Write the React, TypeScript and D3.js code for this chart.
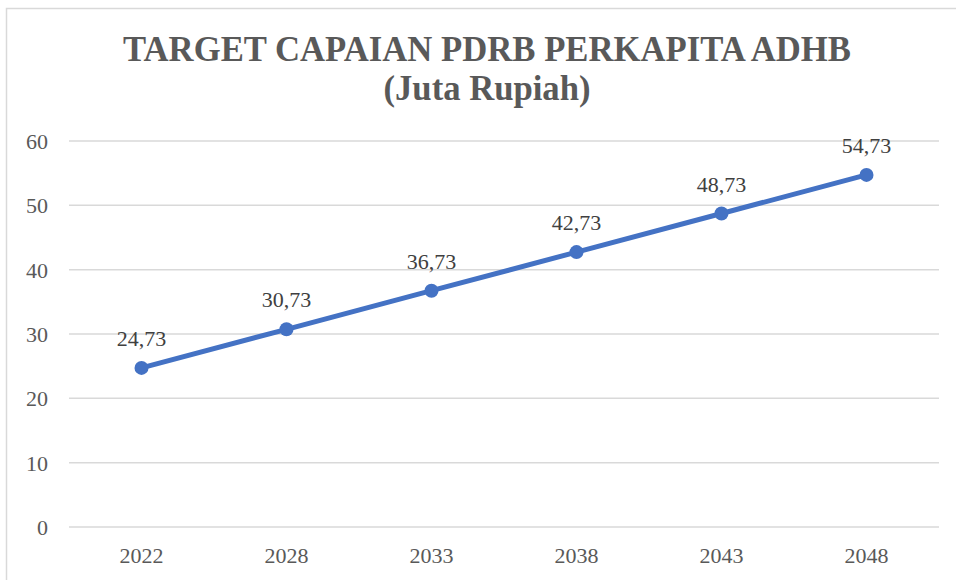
import React, { useEffect, useRef } from "react";
import * as d3 from "d3";

const years = ["2022", "2028", "2033", "2038", "2043", "2048"];
const values = [24.73, 30.73, 36.73, 42.73, 48.73, 54.73];
const yTicks = [0, 10, 20, 30, 40, 50, 60];
const titleLines = ["TARGET CAPAIAN PDRB PERKAPITA ADHB", "(Juta Rupiah)"];
const titleWidths = [728, 207];

const FONT = "Liberation Serif";

export default function App() {
  const ref = useRef<SVGSVGElement | null>(null);

  useEffect(() => {
    if (!ref.current) return;
    const svg = d3.select(ref.current);
    svg.selectAll("*").remove();

    const width = 956;
    const height = 580;

    svg.append("rect").attr("width", width).attr("height", height).attr("fill", "#fff");

    // chart frame, cropped on the right and bottom
    svg
      .append("rect")
      .attr("x", 6.5)
      .attr("y", 8.5)
      .attr("width", width + 20)
      .attr("height", height + 20)
      .attr("fill", "none")
      .attr("stroke", "#d9d9d9")
      .attr("stroke-width", 1.5);

    // title
    svg
      .selectAll("text.title")
      .data(titleLines)
      .enter()
      .append("text")
      .attr("class", "title")
      .attr("x", 487)
      .attr("y", (d, i) => (i === 0 ? 61 : 100))
      .attr("text-anchor", "middle")
      .attr("textLength", (d, i) => titleWidths[i])
      .attr("lengthAdjust", "spacingAndGlyphs")
      .style("font-family", FONT)
      .style("font-weight", "bold")
      .style("font-size", "35px")
      .attr("fill", "#595959")
      .text((d) => d);

    const x = d3.scalePoint<string>().domain(years).range([69, 939]).padding(0.5);
    const y = d3.scaleLinear().domain([0, 60]).range([527, 141]);

    // gridlines
    svg
      .selectAll("line.grid")
      .data(yTicks)
      .enter()
      .append("line")
      .attr("class", "grid")
      .attr("x1", 69)
      .attr("x2", 939)
      .attr("y1", (d) => y(d))
      .attr("y2", (d) => y(d))
      .attr("stroke", "#d9d9d9")
      .attr("stroke-width", 1.5);

    // y labels
    svg
      .selectAll("text.ylab")
      .data(yTicks)
      .enter()
      .append("text")
      .attr("class", "ylab")
      .attr("x", 48)
      .attr("y", (d) => y(d) + 8)
      .attr("text-anchor", "end")
      .style("font-family", FONT)
      .style("font-size", "22px")
      .attr("fill", "#595959")
      .text((d) => d);

    // x labels
    svg
      .selectAll("text.xlab")
      .data(years)
      .enter()
      .append("text")
      .attr("class", "xlab")
      .attr("x", (d) => x(d)!)
      .attr("y", 563)
      .attr("text-anchor", "middle")
      .style("font-family", FONT)
      .style("font-size", "22px")
      .attr("fill", "#595959")
      .text((d) => d);

    const pts = years.map((yr, i) => ({ yr, v: values[i] }));

    const line = d3
      .line<{ yr: string; v: number }>()
      .x((d) => x(d.yr)!)
      .y((d) => y(d.v));

    svg
      .append("path")
      .datum(pts)
      .attr("d", line)
      .attr("fill", "none")
      .attr("stroke", "#4472C4")
      .attr("stroke-width", 5)
      .attr("stroke-linejoin", "round")
      .attr("stroke-linecap", "round");

    svg
      .selectAll("circle.pt")
      .data(pts)
      .enter()
      .append("circle")
      .attr("class", "pt")
      .attr("cx", (d) => x(d.yr)!)
      .attr("cy", (d) => y(d.v))
      .attr("r", 7)
      .attr("fill", "#4472C4");

    // data labels
    svg
      .selectAll("text.val")
      .data(pts)
      .enter()
      .append("text")
      .attr("class", "val")
      .attr("x", (d) => x(d.yr)!)
      .attr("y", (d) => y(d.v) - 22)
      .attr("text-anchor", "middle")
      .style("font-family", FONT)
      .style("font-size", "22px")
      .attr("fill", "#404040")
      .text((d) => d.v.toFixed(2).replace(".", ","));
  }, []);

  return (
    <svg
      ref={ref}
      width={956}
      height={580}
      style={{ position: "absolute", left: 0, top: 0 }}
    />
  );
}
